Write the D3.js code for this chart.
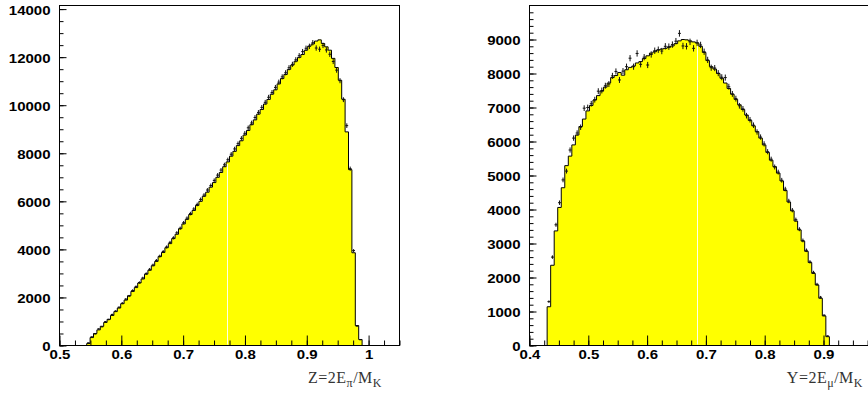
<!DOCTYPE html>
<html>
<head>
<meta charset="utf-8">
<script src="https://cdn.jsdelivr.net/npm/d3@7"></script>
<style>
  body { margin: 0; background: #fff; }
  svg { display: block; }
  .lbl { font-family: 'Liberation Sans', Arial, Helvetica, sans-serif; font-weight: bold; font-size: 12px; fill: #000; }
  .title { font-family: 'Liberation Serif', 'Times New Roman', serif; font-size: 16px; fill: #333; letter-spacing: 0.5px; }
</style>
</head>
<body>
<svg id="chart" width="868" height="396"></svg>
<script>
// Z = 2E_pi / M_K : first listed bin starts at zStart, bins are zWidth wide
const zStart = 0.544
const zWidth = 0.0055
const zMC = [
  80, 330, 500, 650, 800, 960, 1090, 1250, 1410, 1560,
  1740, 1890, 2070, 2250, 2410, 2600, 2770, 2970, 3130, 3320,
  3500, 3700, 3870, 4070, 4240, 4450, 4630, 4860, 5060, 5250,
  5450, 5620, 5830, 6000, 6210, 6380, 6590, 6780, 7000, 7200,
  7440, 7640, 7880, 8080, 8320, 8520, 8760, 8950, 9190, 9390,
  9630, 9820, 10050, 10240, 10460, 10640, 10890, 11110, 11280, 11490,
  11670, 11830, 11990, 12110, 12290, 12460, 12550, 12670, 12720, 12570,
  12430, 12290, 11950, 11570, 11040, 10250, 8890, 7320, 3860, 830,
  250
]
const zData = [
  110, 360, 480, 690, 780, 990, 1080, 1290, 1430, 1590,
  1760, 1930, 2060, 2290, 2450, 2620, 2810, 2990, 3170, 3350,
  3540, 3720, 3910, 4100, 4290, 4480, 4690, 4880, 5110, 5300,
  5490, 5680, 5870, 6080, 6260, 6470, 6660, 6870, 7090, 7300,
  7520, 7730, 7960, 8180, 8400, 8620, 8830, 9060, 9260, 9490,
  9700, 9910, 10120, 10330, 10530, 10740, 10960, 11180, 11350, 11560,
  11700, 11890, 12060, 12230, 12370, 12450, 12600, 12380, 12330, 12490,
  12300, 12120, 11820, 11460, 11020, 10230, 9150, 7360, 3950, 810,
  240
]
const zTicks = [0.5, 0.6, 0.7, 0.8, 0.9, 1.0]
const zCountTicks = [0, 2000, 4000, 6000, 8000, 10000, 12000, 14000]

// Y = 2E_mu / M_K
const yStart = 0.43
const yWidth = 0.006
const yMC = [
  1140, 2360, 3370, 4060, 4640, 5290, 5570, 5900, 6190, 6440,
  6660, 6900, 7060, 7220, 7350, 7480, 7600, 7720, 7880, 7940,
  8030, 7950, 8110, 8180, 8220, 8310, 8350, 8440, 8520, 8600,
  8640, 8690, 8720, 8740, 8770, 8810, 8880, 8960, 9000, 8990,
  8960, 8930, 8900, 8800, 8620, 8380, 8200, 8130, 8000, 7860,
  7720, 7560, 7390, 7240, 7080, 6940, 6780, 6620, 6460, 6290,
  6100, 5900, 5680, 5450, 5260, 5070, 4840, 4560, 4220, 3960,
  3660, 3400, 3070, 2770, 2440, 2120, 1780, 1390, 870, 260
]
const yData = [
  1290, 2600, 3550, 4200, 4870, 5130, 5750, 6100, 6250, 6420,
  6980, 7000, 7110, 7230, 7480, 7500, 7640, 7690, 7930, 8060,
  7810, 8070, 8200, 8450, 8200, 8590, 8270, 8480, 8250, 8560,
  8670, 8700, 8660, 8800, 8790, 8850, 8950, 9180, 8810, 8800,
  8930, 8740, 8900, 8840, 8640, 8400, 8170, 8160, 8010, 7890,
  7880, 7610, 7400, 7260, 7050, 6960, 6760, 6640, 6480, 6280,
  6130, 5930, 5700, 5480, 5250, 5100, 4860, 4600, 4250, 3980,
  3700, 3420, 3090, 2800, 2460, 2150, 1800, 1420, 890, 280
]
const yTicks = [0.4, 0.5, 0.6, 0.7, 0.8, 0.9]
const yCountTicks = [0, 1000, 2000, 3000, 4000, 5000, 6000, 7000, 8000, 9000]

const svg = d3.select('#chart')
const STRETCH = 'scale(1.25,1)'

function drawPanel (p) {
  const x = d3.scaleLinear().domain(p.xDomain).range([p.left, p.right])
  const y = d3.scaleLinear().domain([0, p.yMax]).range([p.bottom, p.top])
  const g = svg.append('g')

  const n = p.mc.length
  const pts = [[p.start, 0]]
  p.mc.forEach((v, i) => pts.push([p.start + i * p.width, v]))
  pts.push([p.start + n * p.width, p.mc[n - 1]])
  pts.push([p.start + n * p.width, 0])

  const area = d3.area()
    .x(d => x(d[0]))
    .y0(y(0))
    .y1(d => y(d[1]))
    .curve(d3.curveStepAfter)
  const line = d3.line()
    .x(d => x(d[0]))
    .y(d => y(d[1]))
    .curve(d3.curveStepAfter)

  g.append('path').datum(pts)
    .attr('fill', '#ffff00')
    .attr('stroke', 'none')
    .attr('d', area)

  // faint light seam in the fill
  const si = Math.floor((p.seam - p.start) / p.width)
  g.append('line')
    .attr('x1', Math.round(x(p.seam)) + 0.5).attr('x2', Math.round(x(p.seam)) + 0.5)
    .attr('y1', y(p.mc[si]) + 2).attr('y2', y(0) - 1)
    .attr('stroke', '#ffffe8')
    .attr('stroke-width', 1)

  g.append('path').datum(pts)
    .attr('fill', 'none')
    .attr('stroke', '#000')
    .attr('stroke-width', 1)
    .attr('d', line)

  // data points with errors
  const cross = g.append('g').attr('stroke', '#111').attr('stroke-width', 1)
  p.data.forEach((v, i) => {
    const lo = p.start + i * p.width
    const c = lo + p.width / 2
    const e = Math.sqrt(v)
    cross.append('line')
      .attr('x1', x(lo) + 0.3).attr('x2', x(lo + p.width) - 0.3)
      .attr('y1', y(v)).attr('y2', y(v))
    cross.append('line')
      .attr('x1', x(c)).attr('x2', x(c))
      .attr('y1', y(v - e)).attr('y2', y(v + e))
  })

  // axes
  const xMinor = d3.range(p.xDomain[0], p.xDomain[1] + 1e-9, 0.025)
  g.append('g')
    .attr('transform', `translate(0,${p.bottom})`)
    .call(d3.axisBottom(x).tickValues(xMinor).tickSize(-5).tickFormat(''))
    .call(a => a.select('.domain').remove())
  const xAx = g.append('g')
    .attr('transform', `translate(0,${p.bottom})`)
    .call(d3.axisBottom(x).tickValues(p.xTicks).tickSize(-10).tickPadding(5.3)
      .tickFormat(d => String(+d.toFixed(1))))
    .call(a => a.select('.domain').remove())
  xAx.selectAll('text').attr('class', 'lbl').attr('transform', STRETCH)

  const yMinor = d3.range(0, p.yMax, p.yMinorStep)
  g.append('g')
    .attr('transform', `translate(${p.left},0)`)
    .call(d3.axisLeft(y).tickValues(yMinor).tickSize(-4).tickFormat(''))
    .call(a => a.select('.domain').remove())
  const yAx = g.append('g')
    .attr('transform', `translate(${p.left},0)`)
    .call(d3.axisLeft(y).tickValues(p.yTicks).tickSize(-7).tickPadding(7.2)
      .tickFormat(d3.format('d')))
    .call(a => a.select('.domain').remove())
  yAx.selectAll('text').attr('class', 'lbl').attr('dy', '0.42em').attr('transform', STRETCH)
  g.selectAll('.tick line').attr('stroke', '#000')

  g.append('rect')
    .attr('x', p.left).attr('y', p.top)
    .attr('width', p.right - p.left).attr('height', p.bottom - p.top)
    .attr('fill', 'none').attr('stroke', '#000').attr('stroke-width', 1)

  const t = g.append('text')
    .attr('class', 'title')
    .attr('x', p.titleX).attr('y', 382.7)
    .attr('text-anchor', 'end')
  t.append('tspan').text(p.title[0])
  t.append('tspan').attr('font-size', 12).attr('dy', 4).text(p.title[1])
  t.append('tspan').attr('dy', -4).text(p.title[2])
  t.append('tspan').attr('font-size', 12).attr('dy', 4).text(p.title[3])
}

drawPanel({
  xDomain: [0.5, 1.05], yMax: 14150,
  left: 59.5, right: 399.5, top: 5.5, bottom: 345.5,
  start: zStart, width: zWidth, mc: zMC, data: zData,
  xTicks: zTicks, yTicks: zCountTicks, yMinorStep: 500,
  seam: 0.7705,
  title: ['Z=2E', 'π', '/M', 'K'], titleX: 382
})

drawPanel({
  xDomain: [0.4, 1.0], yMax: 10000,
  left: 529.5, right: 882.3, top: 5.5, bottom: 345.5,
  start: yStart, width: yWidth, mc: yMC, data: yData,
  xTicks: yTicks, yTicks: yCountTicks, yMinorStep: 200,
  seam: 0.6843,
  title: ['Y=2E', 'μ', '/M', 'K'], titleX: 863
})
</script>
</body>
</html>
